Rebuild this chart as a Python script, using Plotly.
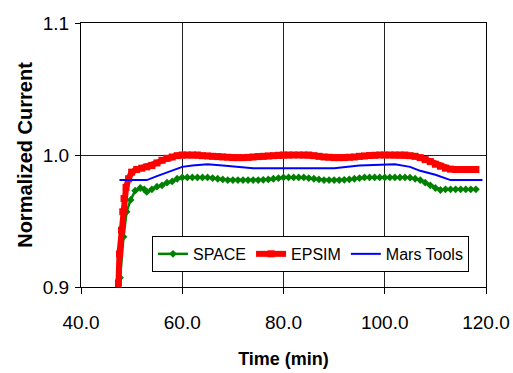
import plotly.graph_objects as go

space_t = [47.5, 47.7, 48.4, 49.0, 49.8, 50.7, 51.7, 52.5, 53.0] + list(range(54, 119))
space_v = [0.897, 0.907, 0.938, 0.957, 0.966, 0.973, 0.975, 0.974, 0.972,
           0.974, 0.976, 0.977, 0.979, 0.980, 0.982,            # 54-59
           0.983, 0.983, 0.983, 0.983, 0.983, 0.983,            # 60-65
           0.9825, 0.982, 0.9815, 0.981, 0.981, 0.981, 0.981, 0.981, 0.981, 0.981,  # 66-75
           0.9812, 0.9815, 0.982, 0.9825,                        # 76-79
           0.983, 0.983, 0.983, 0.983, 0.983, 0.9825,            # 80-85
           0.982, 0.9815, 0.981, 0.981, 0.981, 0.981,            # 86-91
           0.9812, 0.9815, 0.982, 0.9825,                        # 92-95
           0.983, 0.983, 0.983, 0.983, 0.983, 0.983, 0.983, 0.983, 0.983,  # 96-104
           0.9828, 0.982, 0.981, 0.979, 0.977, 0.975, 0.9735,    # 105-111
           0.974, 0.974, 0.974, 0.974, 0.974, 0.974, 0.974]      # 112-118

epsim_t = [47.2, 47.4, 47.6, 48.0, 48.25, 48.5, 48.9, 49.4, 50.0] + list(range(51, 119))
epsim_v = [0.897, 0.903, 0.925, 0.943, 0.957, 0.967, 0.9755, 0.982, 0.987,
           0.989, 0.990, 0.991, 0.992, 0.994, 0.996, 0.9975, 0.9985, 0.9995,  # 51-59
           1.000, 1.000, 1.000, 1.000, 0.9995, 0.9993, 0.999, 0.9988, 0.9985, 0.9983,  # 60-69
           0.998, 0.998, 0.998, 0.9982, 0.9985, 0.9988, 0.999, 0.9993, 0.9995, 0.9998,  # 70-79
           1.000, 1.000, 1.000, 1.000, 1.000, 1.000, 0.9995, 0.999, 0.9985, 0.9983,    # 80-89
           0.998, 0.998, 0.998, 0.9983, 0.9985, 0.999, 0.9993, 0.9996, 0.9998, 1.000,  # 90-99
           1.000, 1.000, 1.000, 1.000, 1.000, 0.9995, 0.999, 0.998, 0.9965, 0.995,     # 100-109
           0.993, 0.9915, 0.990, 0.9893, 0.989, 0.989, 0.989, 0.989, 0.989]            # 110-118

mars_t = [47.6, 53, 55, 57, 60, 62, 65, 68, 71, 74, 77, 80, 85, 90, 95, 100, 102, 105, 107, 110, 113, 119.3]
mars_v = [0.981, 0.981, 0.984, 0.987, 0.991, 0.992, 0.993, 0.992, 0.991, 0.990, 0.990,
          0.990, 0.990, 0.990, 0.992, 0.993, 0.993, 0.991, 0.988, 0.985, 0.981, 0.981]

x_ticks = [40, 60, 80, 100, 120]
x_labels = ["40.0", "60.0", "80.0", "100.0", "120.0"]
y_ticks = [0.9, 1.0, 1.1]
y_labels = ["0.9", "1.0", "1.1"]

fig = go.Figure()
fig.add_trace(go.Scatter(x=space_t, y=space_v, name="SPACE", mode="lines+markers",
                         line=dict(color="#008000", width=2.5),
                         marker=dict(symbol="diamond", size=6, color="#008000")))
fig.add_trace(go.Scatter(x=epsim_t, y=epsim_v, name="EPSIM", mode="lines+markers",
                         line=dict(color="#FF0000", width=6),
                         marker=dict(symbol="square", size=7, color="#FF0000")))
fig.add_trace(go.Scatter(x=mars_t, y=mars_v, name="Mars Tools", mode="lines",
                         line=dict(color="#0000FF", width=2)))

font = "Liberation Sans, Arial, sans-serif"
fig.update_layout(
    width=513, height=373,
    margin=dict(l=81, r=27, t=23, b=86, autoexpand=False),
    paper_bgcolor="white", plot_bgcolor="white",
    font=dict(family=font, size=18, color="black"),
    showlegend=True,
    legend=dict(orientation="h", x=0.958, y=0.057, xanchor="right", yanchor="bottom",
                bgcolor="white", bordercolor="black", borderwidth=1,
                font=dict(size=16), itemwidth=30, tracegroupgap=0),
    xaxis=dict(range=[40, 120], tickvals=x_ticks, ticktext=x_labels, automargin=False,
               showgrid=True, gridcolor="#202020", gridwidth=1,
               showline=True, linecolor="black", linewidth=1, mirror=True,
               ticks="outside", ticklen=6, tickcolor="black",
               ticklabelstandoff=12, tickfont=dict(size=19),
               zeroline=False,
               title=dict(text="<b>Time (min)</b>", font=dict(size=18), standoff=20)),
    yaxis=dict(range=[0.9, 1.1], tickvals=y_ticks, ticktext=y_labels, automargin=False,
               showgrid=True, gridcolor="#202020", gridwidth=1,
               showline=True, linecolor="black", linewidth=1, mirror=True,
               ticks="outside", ticklen=5, tickcolor="black",
               ticklabelstandoff=2, tickfont=dict(size=19),
               zeroline=False,
               title=dict(text="<b>Normalized Current</b>", font=dict(size=20), standoff=4)),
)
fig.write_html("out.html", config={"displayModeBar": False},
               post_script="document.body.style.margin='0';document.body.style.overflow='hidden';")
